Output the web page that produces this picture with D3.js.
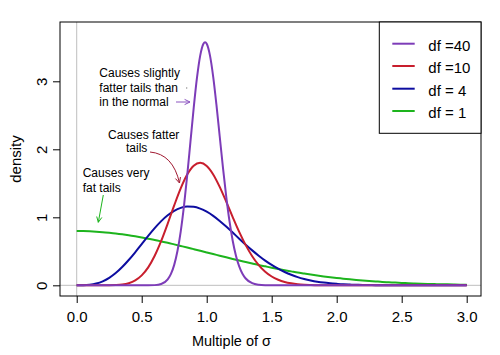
<!DOCTYPE html>
<html><head><meta charset="utf-8">
<script src="https://cdn.jsdelivr.net/npm/d3@7"></script>
<style>body{margin:0;background:#fff}svg{display:block;font-family:"Liberation Sans",Arial,sans-serif}</style>
</head><body><svg id="c" width="500" height="355"></svg>
<script>
// ---- data ----
const xGrid = [0,0.05,0.1,0.15,0.2,0.25,0.3,0.35,0.4,0.45,0.5,0.55,0.6,0.65,0.7,0.75,0.8,0.85,0.9,0.95,
  1.0,1.05,1.1,1.15,1.2,1.25,1.3,1.35,1.4,1.45,1.5,1.55,1.6,1.65,1.7,1.75,1.8,1.85,1.9,1.95,
  2.0,2.05,2.1,2.15,2.2,2.25,2.3,2.35,2.4,2.45,2.5,2.55,2.6,2.65,2.7,2.75,2.8,2.85,2.9,2.95,3.0];
const dens1 = [0.798,0.797,0.794,0.789,0.782,0.773,0.763,0.751,0.737,0.721,0.704,0.686,0.666,0.646,0.625,0.602,0.579,0.556,0.532,0.508,
  0.484,0.460,0.436,0.412,0.388,0.365,0.343,0.321,0.299,0.279,0.259,0.240,0.222,0.205,0.188,0.173,0.158,0.144,0.131,0.119,
  0.108,0.098,0.088,0.079,0.071,0.064,0.057,0.050,0.045,0.040,0.035,0.031,0.027,0.024,0.021,0.018,0.016,0.014,0.012,0.010,0.009];
const dens4 = [0,0.001,0.008,0.026,0.059,0.110,0.180,0.269,0.372,0.486,0.607,0.727,0.841,0.944,1.030,1.096,1.139,1.158,1.154,1.128,
  1.083,1.022,0.947,0.864,0.776,0.686,0.598,0.514,0.436,0.364,0.300,0.244,0.196,0.155,0.121,0.094,0.072,0.054,0.040,0.030,
  0.022,0.015,0.011,0.008,0.005,0.004,0.002,0.002,0.001,0.001,0,0,0,0,0,0,0,0,0,0,0];
const dens10 = [0,0,0,0,0.0001,0.0007,0.0033,0.011,0.031,0.072,0.146,0.264,0.434,0.652,0.907,1.175,1.425,1.628,1.758,1.801,
  1.755,1.631,1.448,1.231,1.003,0.785,0.591,0.428,0.298,0.201,0.130,0.082,0.049,0.029,0.016,0.009,0.005,0.002,0.001,0.001,
  0,0,0,0,0,0,0,0,0,0,0,0,0,0,0,0,0,0,0,0,0];
const xGrid40 = [0,0.5,0.55,0.6,0.65,0.7,0.725,0.75,0.775,0.8,0.825,0.85,0.875,0.9,0.925,0.95,0.975,0.9875,1.0,1.025,1.05,1.075,
  1.1,1.125,1.15,1.175,1.2,1.225,1.25,1.275,1.3,1.35,1.4,1.45,1.5,3.0];
const dens40 = [0,0.00002,0.0003,0.0029,0.0187,0.0870,0.1676,0.3006,0.5039,0.7907,1.1651,1.6152,2.1119,2.6086,3.0487,3.3783,3.5534,3.5755,3.5531,3.3816,3.0667,2.6533,
  2.1922,1.7313,1.3081,0.9463,0.6559,0.4360,0.2782,0.1704,0.1003,0.0309,0.0082,0.0019,0.0004,0];
const seriesNames = ["df =40","df =10","df = 4","df = 1"];
const xTicks = [0,0.5,1,1.5,2,2.5,3];
const yTicks = [0,1,2,3];
const colors = {d40:"#7D3CB8", d10:"#C81E2D", d4:"#0D0DA0", d1:"#1DB41D"};

// ---- layout ----
const svg = d3.select("#c");
const L=60, R=481, T=22, B=296;
const x = d3.scaleLinear().domain([-0.1285, 3.110]).range([L,R]);
const y = d3.scaleLinear().domain([-0.157, 3.872]).range([B,T]);

// reference lines
svg.append("line").attr("x1",x(0)).attr("x2",x(0)).attr("y1",T).attr("y2",B).attr("stroke","#bebebe").attr("stroke-width",1);
svg.append("line").attr("x1",L).attr("x2",R).attr("y1",y(0)).attr("y2",y(0)).attr("stroke","#bebebe").attr("stroke-width",1);

const line = d3.line().x(d=>x(d[0])).y(d=>y(d[1])).curve(d3.curveMonotoneX);
const series = [
  {xs:xGrid, ys:dens1, c:colors.d1},
  {xs:xGrid, ys:dens4, c:colors.d4},
  {xs:xGrid, ys:dens10, c:colors.d10},
  {xs:xGrid40, ys:dens40, c:colors.d40}
];
series.forEach(s=>{
  svg.append("path").datum(s.xs.map((v,i)=>[v,s.ys[i]]))
    .attr("d",line).attr("fill","none").attr("stroke",s.c).attr("stroke-width",2).attr("stroke-linejoin","round");
});

// box
svg.append("rect").attr("x",L).attr("y",T).attr("width",R-L).attr("height",B-T).attr("fill","none").attr("stroke","#000").attr("stroke-width",1);

// x axis
const xa = svg.append("g").attr("transform",`translate(0,${B})`)
  .call(d3.axisBottom(x).tickValues(xTicks).tickFormat(d3.format(".1f")).tickSize(7).tickSizeOuter(0));
xa.select(".domain").remove();
xa.selectAll("text").attr("font-size",15).attr("font-family","Liberation Sans, Arial").attr("fill","#000").attr("dy",null).attr("y",25.7);
xa.selectAll("line").attr("stroke","#000");
// y axis
const ya = svg.append("g").attr("transform",`translate(${L},0)`)
  .call(d3.axisLeft(y).tickValues(yTicks).tickFormat(d3.format("d")).tickSize(7).tickSizeOuter(0));
ya.select(".domain").remove();
ya.selectAll("line").attr("stroke","#000");
ya.selectAll("text").attr("font-size",15).attr("font-family","Liberation Sans, Arial").attr("fill","#000")
  .attr("x",null).attr("dy",null).attr("text-anchor","middle")
  .attr("transform","translate(-13.5,0) rotate(-90)");

// axis titles
svg.append("text").attr("x",231.5).attr("y",345.7).attr("text-anchor","middle").attr("font-size",14.5).text("Multiple of σ");
svg.append("text").attr("transform","translate(20.7,159) rotate(-90)").attr("text-anchor","middle").attr("font-size",15).text("density");

// legend
svg.append("rect").attr("x",379.3).attr("y",T).attr("width",R-379.3).attr("height",133.3-T).attr("fill","#fff").attr("stroke","#000");
const legColors=[colors.d40,colors.d10,colors.d4,colors.d1];
const legY=[43.7,66,88.7,111];
seriesNames.forEach((n,i)=>{
  svg.append("line").attr("x1",392.3).attr("x2",414.7).attr("y1",legY[i]).attr("y2",legY[i]).attr("stroke",legColors[i]).attr("stroke-width",2);
  svg.append("text").attr("x",428.3).attr("y",legY[i]+7).attr("font-size",15).text(n);
});

// annotations
function arrow(x1,y1,x2,y2,color,pathD){
  const g=svg.append("g").attr("stroke",color).attr("fill","none").attr("stroke-width",1);
  if(pathD){g.append("path").attr("d",pathD);} else {g.append("line").attr("x1",x1).attr("y1",y1).attr("x2",x2).attr("y2",y2);}
  const a=Math.atan2(y2-y1,x2-x1), h=6, w=0.45;
  g.append("path").attr("d",`M${x2-h*Math.cos(a-w)},${y2-h*Math.sin(a-w)}L${x2},${y2}L${x2-h*Math.cos(a+w)},${y2-h*Math.sin(a+w)}`);
}
const ann = svg.append("g").attr("font-size",12).attr("fill","#000");
[["Causes slightly",99.3,77.3],["fatter tails than",99.3,91.8],["in the normal",99.3,106.4],
 ["Causes fatter",108,139],["tails",126,152.3],
 ["Causes very",82.7,177.3],["fat tails",82.7,191.7]].forEach(t=>{
  ann.append("text").attr("x",t[1]).attr("y",t[2]).text(t[0]);
});
arrow(176,102,190,102,"#8B55C0");
arrow(172,158,179.5,183,"#A01830","M150,152 Q173,154 179.5,183");
arrow(103.3,195,98.3,222.3,"#1DB41D");
svg.append("circle").attr("cx",186.7).attr("cy",88).attr("r",0.7).attr("fill","#888");
</script></body></html>
